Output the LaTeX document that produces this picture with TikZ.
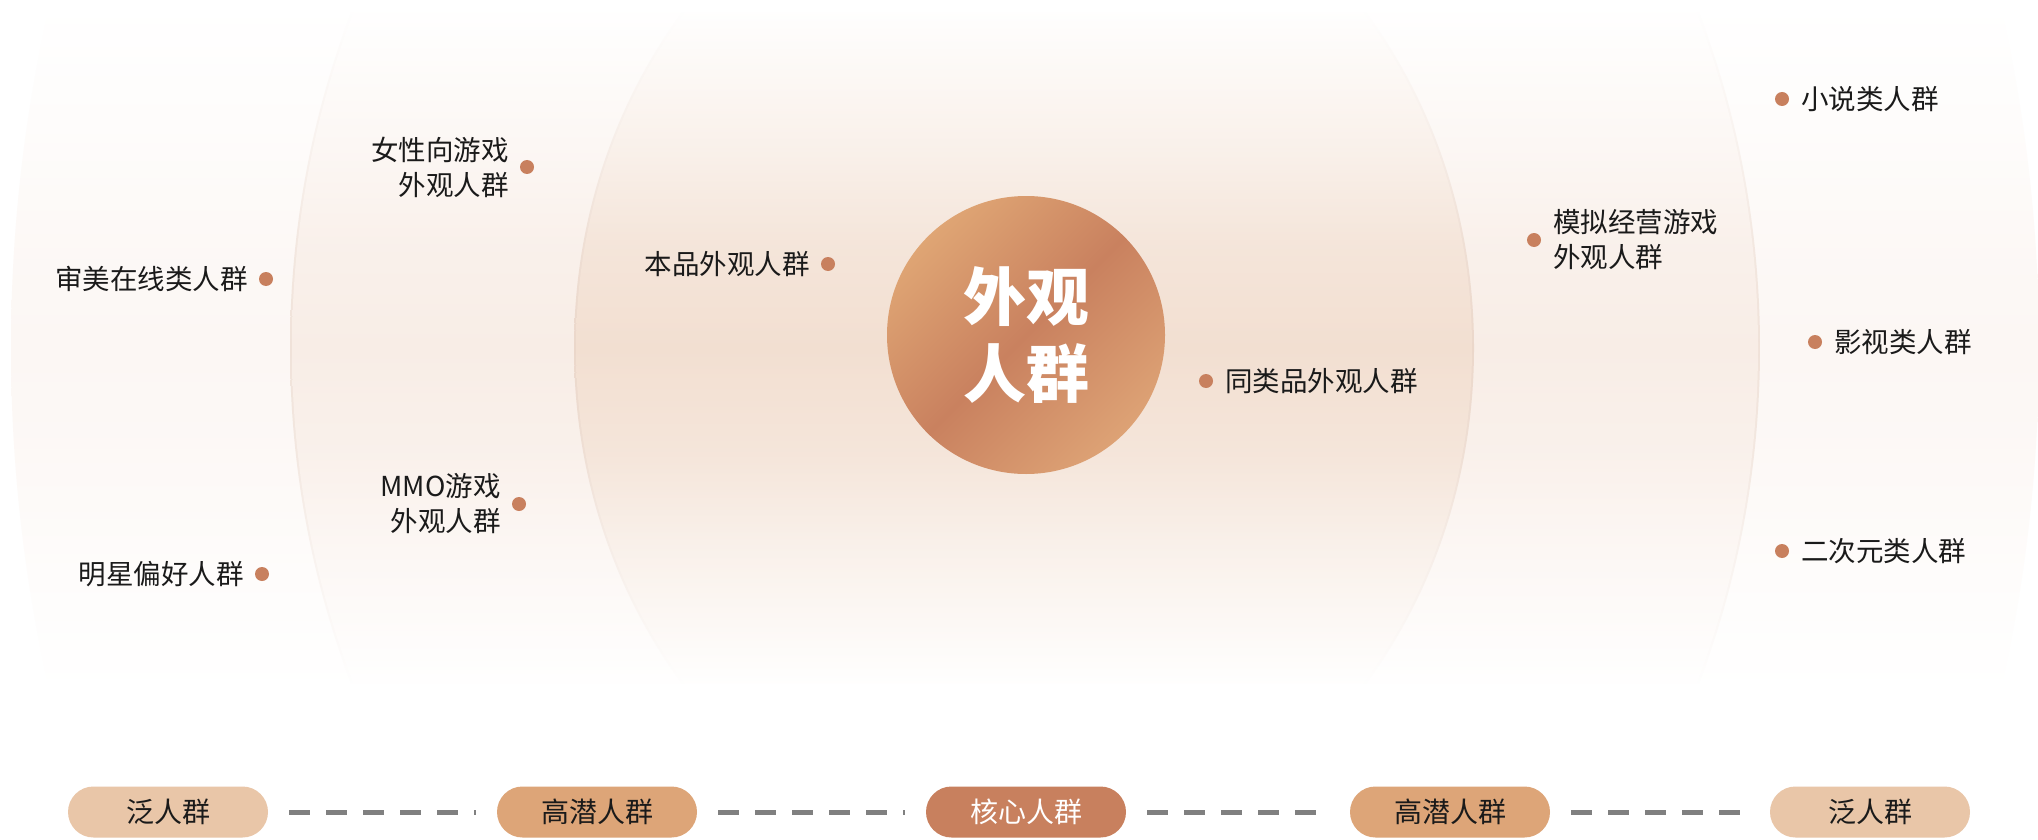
\documentclass[tikz,border=0pt]{standalone}
\usepackage{fontspec}
\setmainfont{Noto Sans CJK SC}
\usetikzlibrary{shapes.geometric}
\definecolor{cin}{HTML}{F2DFD1}
\definecolor{cmid}{HTML}{F8EDE6}
\definecolor{cout}{HTML}{FCF7F4}
\definecolor{cbordin}{HTML}{EBD7CA}
\definecolor{cbordmid}{HTML}{F0E2D9}
\definecolor{dotc}{HTML}{C8805E}
\definecolor{pilllight}{HTML}{E9C6A8}
\definecolor{pillmid}{HTML}{DDA578}
\definecolor{pilldark}{HTML}{C8805E}
\definecolor{dashc}{HTML}{808080}
\definecolor{corelight}{HTML}{DFA574}
\definecolor{corelight2}{HTML}{DDA275}
\definecolor{coredark}{HTML}{C9815F}
\definecolor{txt}{HTML}{1A1A1A}
\newcommand\mkfade[2]{\pgfdeclareverticalshading{#1}{100bp}{%
 color(0bp)=(#2!3!white); color(25bp)=(#2!3!white); color(35bp)=(#2!45!white);
 color(42bp)=(#2!80!white); color(50bp)=(#2); color(58bp)=(#2!80!white);
 color(65bp)=(#2!45!white); color(75bp)=(#2!3!white); color(100bp)=(#2!3!white)}}
\mkfade{shout}{cout}
\mkfade{shmid}{cmid}
\mkfade{shin}{cin}
\mkfade{shbmid}{cbordmid}
\mkfade{shbin}{cbordin}
\tikzset{
  dot/.style={circle, fill=dotc, minimum size=14pt, inner sep=0pt},
  lbl/.style={font=\fontsize{27.5}{35}\selectfont, inner sep=0pt, text=txt},
  pill/.style={rectangle, rounded corners=25.5pt, minimum width=200pt, minimum height=51pt, inner sep=0pt, font=\fontsize{28}{30}\selectfont},
  dashline/.style={draw=dashc, line width=5pt, dash pattern=on 21pt off 16pt, shorten <=21pt, shorten >=21pt}
}
\begin{document}
\begin{tikzpicture}[x=1pt,y=-1pt]
\useasboundingbox (0,0) rectangle (2038,840);
\fill[white] (0,0) rectangle (2038,840);
% outer band
\begin{scope}
\clip (1025,348) ellipse (1014 and 1250);
\shade[shading=shout] (0,13) rectangle (2038,683);
\end{scope}
% middle band with edge
\begin{scope}
\clip (1025,348) ellipse (735 and 839);
\shade[shading=shbmid] (0,13) rectangle (2038,683);
\end{scope}
\begin{scope}
\clip (1025,348) ellipse (733 and 837);
\shade[shading=shmid] (0,13) rectangle (2038,683);
\end{scope}
% inner band with edge
\begin{scope}
\clip (1024,348) ellipse (450 and 516);
\shade[shading=shbin] (0,13) rectangle (2038,683);
\end{scope}
\begin{scope}
\clip (1024,348) ellipse (448 and 514);
\shade[shading=shin] (0,13) rectangle (2038,683);
\end{scope}
% core
\node (core) [circle, minimum size=278pt, inner sep=0pt, top color=corelight, bottom color=corelight2, middle color=coredark, shading angle=45, text=white, font=\bfseries\fontsize{63}{77}\selectfont, align=center] at (1026,335) {外观\\人群};
% left labels
\node[dot] (d1) at (266,279) {};
\node[lbl, anchor=east] (l1) at ([xshift=-11pt]d1.west) {审美在线类人群};
\node[dot] (d2) at (527,167) {};
\node[lbl, anchor=east, align=right] (l2) at ([xshift=-11pt]d2.west) {女性向游戏\\外观人群};
\node[dot] (d3) at (828,264) {};
\node[lbl, anchor=east] (l3) at ([xshift=-11pt]d3.west) {本品外观人群};
\node[dot] (d4) at (519,504) {};
\node[lbl, anchor=east, align=right] (l4) at ([xshift=-11pt]d4.west) {MMO游戏\\外观人群};
\node[dot] (d5) at (262,574) {};
\node[lbl, anchor=east] (l5) at ([xshift=-11pt]d5.west) {明星偏好人群};
% right labels
\node[dot] (d6) at (1782,99) {};
\node[lbl, anchor=west] (l6) at ([xshift=12pt]d6.east) {小说类人群};
\node[dot] (d7) at (1534,240) {};
\node[lbl, anchor=west, align=left] (l7) at ([xshift=12pt]d7.east) {模拟经营游戏\\外观人群};
\node[dot] (d8) at (1815,342) {};
\node[lbl, anchor=west] (l8) at ([xshift=12pt]d8.east) {影视类人群};
\node[dot] (d9) at (1782,551) {};
\node[lbl, anchor=west] (l9) at ([xshift=12pt]d9.east) {二次元类人群};
\node[dot] (d10) at (1206,381) {};
\node[lbl, anchor=west] (l10) at ([xshift=12pt]d10.east) {同类品外观人群};
% bottom legend
\node[pill, fill=pilllight, text=txt] (p1) at (168,812) {泛人群};
\node[pill, fill=pillmid, text=txt] (p2) at (597,812) {高潜人群};
\node[pill, fill=pilldark, text=white] (p3) at (1026,812) {核心人群};
\node[pill, fill=pillmid, text=txt] (p4) at (1450,812) {高潜人群};
\node[pill, fill=pilllight, text=txt] (p5) at (1870,812) {泛人群};
\draw[dashline] (p1) -- (p2);
\draw[dashline] (p2) -- (p3);
\draw[dashline] (p3) -- (p4);
\draw[dashline] (p4) -- (p5);
\end{tikzpicture}
\end{document}
